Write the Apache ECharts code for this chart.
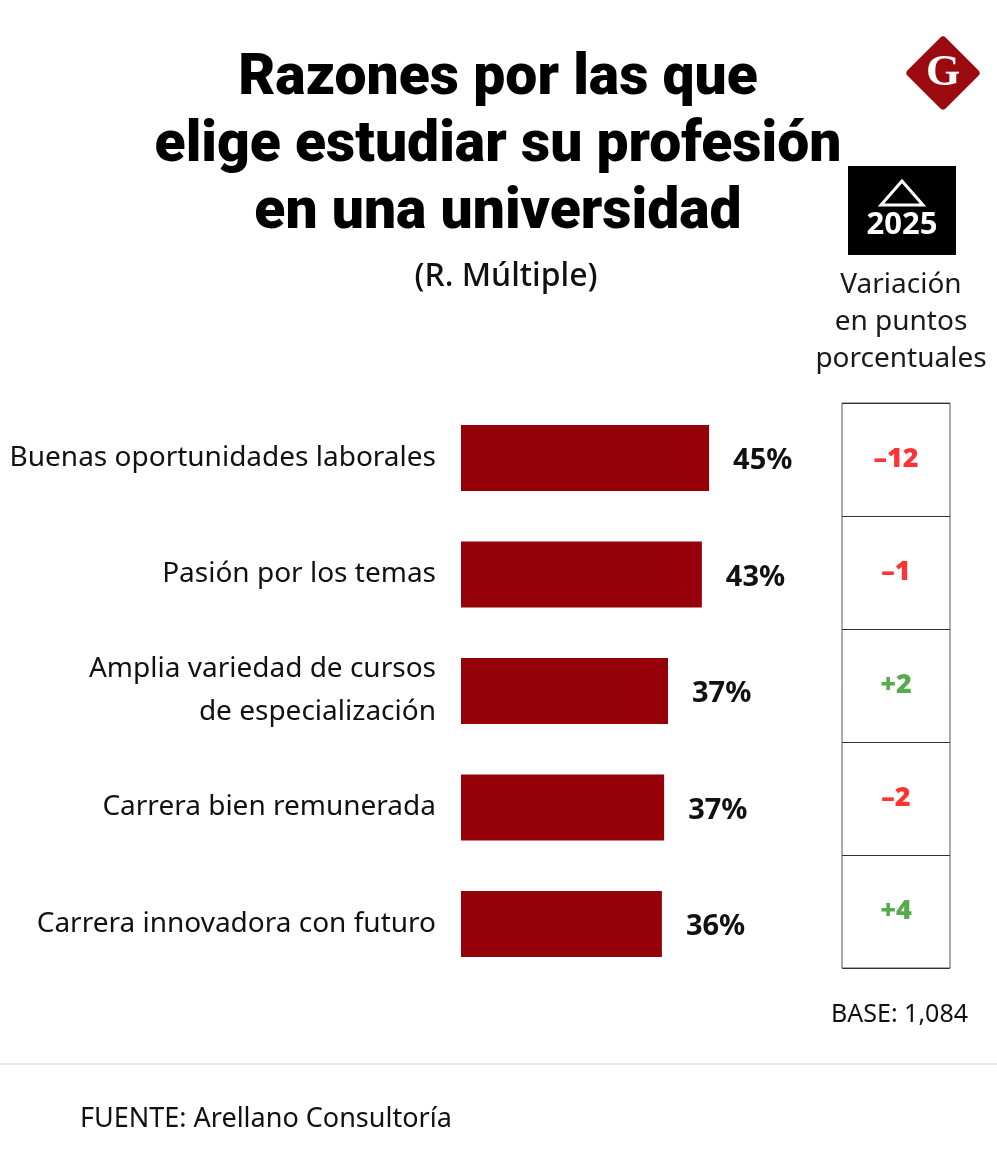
<!DOCTYPE html>
<html><head><meta charset="utf-8">
<script src="https://cdn.jsdelivr.net/npm/echarts@6/dist/echarts.min.js"></script>
<style>html,body{margin:0;padding:0;background:#fff}#c{width:997px;height:1174px}</style>
</head><body><div id="c"></div>
<script>
const categories = ['Buenas oportunidades laborales','Pasión por los temas','Amplia variedad de cursos\nde especialización','Carrera bien remunerada','Carrera innovadora con futuro'];
const values = [44.7, 43.4, 37.3, 36.6, 36.2];
const variation = [-12, -1, 2, -2, 4];

const chart = echarts.init(document.getElementById('c'));
const F = "'Noto Sans', sans-serif";
chart.setOption({
  backgroundColor: '#fff',
  animation: false,
  title: [
    {text: 'Razones por las que\nelige estudiar su profesión\nen una universidad', left: 493, top: 41, textAlign: 'center',
     textStyle: {fontFamily: "Roboto, 'Noto Sans', sans-serif", fontWeight: 900, fontSize: 57, lineHeight: 67, color: '#000'}},
    {text: '(R. Múltiple)', left: 501, top: 256, textAlign: 'center',
     textStyle: {fontFamily: F, fontWeight: 500, fontSize: 32, color: '#111'}},
    {text: 'Variación\nen puntos\nporcentuales', left: 896, top: 262, textAlign: 'center',
     textStyle: {fontFamily: F, fontWeight: 'normal', fontSize: 28, lineHeight: 37, color: '#1a1a1a'}}
  ],
  grid: [
    {left: 461, width: 333, top: 399.75, height: 582.5},
    {left: 842, width: 108, top: 403, height: 565, show: true, borderColor: '#555', borderWidth: 1, backgroundColor: 'transparent'}
  ],
  xAxis: [
    {gridIndex: 0, type: 'value', min: 0, max: 60, show: false},
    {gridIndex: 1, type: 'value', min: 0, max: 1, show: false}
  ],
  yAxis: [
    {gridIndex: 0, type: 'category', inverse: true, data: categories,
     axisLine: {show: false}, axisTick: {show: false}, splitLine: {show: false},
     axisLabel: {fontFamily: F, fontSize: 28, color: '#111', margin: 25, lineHeight: 43, align: 'right'}},
    {gridIndex: 1, type: 'category', inverse: true, data: categories,
     axisLine: {show: false}, axisTick: {show: false}, axisLabel: {show: false},
     splitLine: {show: true, lineStyle: {color: '#333', width: 1}}}
  ],
  series: [
    {type: 'bar', xAxisIndex: 0, yAxisIndex: 0, data: values, barWidth: 66,
     itemStyle: {color: '#960008'},
     label: {show: true, position: 'right', distance: 24, offset: [0, 3],
       formatter: p => Math.round(p.value) + '%',
       fontFamily: F, fontWeight: 'bold', fontSize: 29, color: '#111'}},
    {type: 'scatter', xAxisIndex: 1, yAxisIndex: 1, symbolSize: 1, itemStyle: {color: 'rgba(0,0,0,0)'},
     data: variation.map((v, i) => ({value: [0.5, i, v], label: {color: v > 0 ? '#2a9620' : '#ff0000'}})),
     label: {show: true, position: 'inside',
       formatter: p => (p.value[2] > 0 ? '+' : '\u2013') + Math.abs(p.value[2]),
       fontFamily: F, fontWeight: 900, fontSize: 27}}
  ],
  graphic: [
    {type: 'rect', shape: {x: -27, y: -27, width: 54, height: 54, r: 4}, x: 943, y: 73, rotation: Math.PI / 4,
     style: {fill: '#9a0a0f'}},
    {type: 'text', x: 943, y: 74, style: {text: 'G', fontFamily: "'Liberation Serif', 'DejaVu Serif', serif", fontWeight: 'bold', fontSize: 44, fill: '#fff', align: 'center', verticalAlign: 'middle'}},
    {type: 'rect', shape: {x: 848, y: 166, width: 108, height: 89}, style: {fill: '#000'}},
    {type: 'polygon', shape: {points: [[902, 181], [881, 205], [923, 205]]}, style: {fill: 'none', stroke: '#fff', lineWidth: 3}},
    {type: 'text', x: 902, y: 225, style: {text: '2025', fontFamily: F, fontWeight: 'bold', fontSize: 31, fill: '#fff', align: 'center', verticalAlign: 'middle'}},
    {type: 'text', x: 968, y: 1015, style: {text: 'BASE: 1,084', fontFamily: F, fontSize: 25, fill: '#111', align: 'right', verticalAlign: 'middle'}},
    {type: 'line', shape: {x1: 0, y1: 1064, x2: 997, y2: 1064}, style: {stroke: '#cfcfcf', lineWidth: 1}},
    {type: 'text', x: 80, y: 1119, style: {text: 'FUENTE: Arellano Consultoría', fontFamily: F, fontSize: 27, fill: '#111', align: 'left', verticalAlign: 'middle'}}
  ]
});
</script></body></html>
